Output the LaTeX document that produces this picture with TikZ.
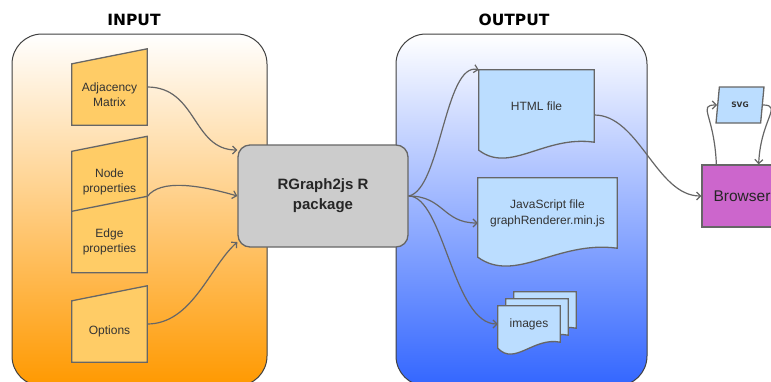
\documentclass[tikz,border=0pt]{standalone}
\usepackage{fontspec}
\setmainfont{Liberation Sans}
\newfontfamily\titlefont{DejaVu Sans}
\usetikzlibrary{arrows.meta,backgrounds,calc,shapes.geometric}

\definecolor{inorange}{HTML}{FF9900}
\definecolor{outblue}{HTML}{3366FF}
\definecolor{inyellow}{HTML}{FFCC66}
\definecolor{docblue}{HTML}{BBDDFF}
\definecolor{pkggray}{HTML}{CCCCCC}
\definecolor{browserpink}{HTML}{CC66CC}
\definecolor{edgegray}{HTML}{666666}

\tikzset{
  panel/.style={draw=black!75, line width=1pt, rounded corners=30pt, minimum height=352pt},
  paneltitle/.style={font=\titlefont\bfseries\fontsize{15.5}{18}\selectfont},
  intext/.style={minimum width=75pt, minimum height=61pt, inner sep=0pt, align=center,
    text=black!80, font=\fontsize{12}{15.5}\selectfont},
  doctext/.style={inner sep=0pt, align=center, text=black!80, font=\fontsize{12}{16}\selectfont},
  inshape/.style={fill=inyellow, draw=edgegray, line width=1.3pt},
  docshape/.style={fill=docblue, draw=edgegray, line width=1.3pt},
  pkgbox/.style={draw=edgegray, fill=pkggray, line width=1.3pt, rounded corners=12pt,
    minimum width=170pt, minimum height=102pt, align=center, text=black!85,
    font=\bfseries\fontsize{15}{20}\selectfont},
  browserbox/.style={draw=edgegray, fill=browserpink, line width=1.3pt,
    minimum width=80pt, minimum height=62pt, text=black!85, font=\fontsize{15.5}{18}\selectfont},
  svgbox/.style={trapezium, trapezium left angle=76, trapezium right angle=104,
    trapezium stretches=true, minimum width=48pt, minimum height=36pt, inner sep=0pt,
    draw=edgegray, fill=docblue, line width=1.3pt, text=black!80,
    font=\titlefont\bfseries\fontsize{7.5}{9}\selectfont},
  conn/.style={draw=edgegray, line width=1.2pt, -{Straight Barb[length=4pt,width=8pt]}},
}

% manual input: slanted top, rises 15pt to the right
\newcommand{\manualpath}[1]{%
  \filldraw[inshape] (#1.south west) -- (#1.north west) -- ([yshift=15pt]#1.north east)
    -- (#1.south east) -- cycle;}
% document: wavy bottom
\newcommand{\docpath}[2]{%
  \filldraw[docshape] (#1.north west) -- (#1.north east) -- (#1.south east)
    .. controls ($(#1.south east)!0.43!(#1.south west)+(0,-0.9*#2)$)
    and ($(#1.south east)!0.73!(#1.south west)+(0,4*#2)$)
    .. ($(#1.south west)+(0,#2)$) -- cycle;}

\begin{document}
\begin{tikzpicture}[x=1pt,y=-1pt]
  \useasboundingbox (0,0) rectangle (771,381);

  % panels
  \begin{scope}[on background layer]
    \node[panel, minimum width=255pt, top color=white, bottom color=inorange] (inpanel) at (139.5,210) {};
    \node[panel, minimum width=251pt, top color=white, bottom color=outblue] (outpanel) at (521.5,210) {};
  \end{scope}
  \node[paneltitle] (intitle) at (134,20) {INPUT};
  \node[paneltitle] (outtitle) at (514,20) {OUTPUT};

  % input
  \node[intext] (adj) at (109.5,94.5) {Adjacency\\Matrix};
  \node[intext] (nodeprop) at (109.5,182) {Node\\properties};
  \node[intext] (edgeprop) at (109.5,242) {Edge\\properties};
  \node[intext] (opts) at (109.5,331.5) {Options};

  \node[pkgbox] (pkg) at (323,196) {RGraph2js R\\package};

  % output
  \node[doctext, minimum width=115pt, minimum height=72pt] (html) at (536.5,106) {HTML file};
  \node[doctext, minimum width=139pt, minimum height=70pt] (js) at (547.5,213) {JavaScript file\\graphRenderer.min.js};
  \node[doctext, minimum width=62pt, minimum height=36pt] (imgc) at (545,310) {};
  \node[doctext, minimum width=62pt, minimum height=36pt] (imgb) at (537,317) {};
  \node[doctext, minimum width=62pt, minimum height=36pt] (imga) at (529,324) {images};

  \node[browserbox] (browser) at (742,196) {Browser};
  \node[svgbox] (svg) at (740,105) {SVG};

  \begin{scope}[on background layer]
    \manualpath{adj}
    \manualpath{nodeprop}
    \manualpath{edgeprop}
    \manualpath{opts}
    \docpath{html}{8}
    \docpath{js}{9}
    \docpath{imgc}{6}
    \docpath{imgb}{6}
    \docpath{imga}{6}
  \end{scope}

  % connectors
  \draw[conn] ([yshift=7.5pt]adj.east) .. controls +(50,0) and +(-45,0) .. ([yshift=46pt]pkg.west);
  \draw[conn] ([yshift=16pt]nodeprop.south east) .. controls +(13,-18) and +(-38,-11) .. (pkg.west);
  \draw[conn] ([yshift=7.5pt]opts.east) .. controls +(45,0) and +(-28,25) .. ([yshift=-46pt]pkg.west);

  \draw[conn] (pkg.east) .. controls +(32,-6) and +(-34,-8) .. (html.north west);
  \draw[conn] (pkg.east) .. controls +(35,0) and +(-35,0) .. ([yshift=-10pt]js.west);
  \draw[conn] (pkg.east) .. controls +(35,0) and +(-45,0) .. (imga.west);

  \draw[conn] ([yshift=-9pt]html.east) .. controls +(45,0) and +(-45,0) .. (browser.west);
  \draw[conn] ([xshift=15pt]browser.north west) .. controls +(-2,-50) and +(-20,0) .. (svg.west);
  \draw[conn] (svg.east) .. controls +(20,0) and +(2,-45) .. ([xshift=-24pt]browser.north east);
\end{tikzpicture}
\end{document}
